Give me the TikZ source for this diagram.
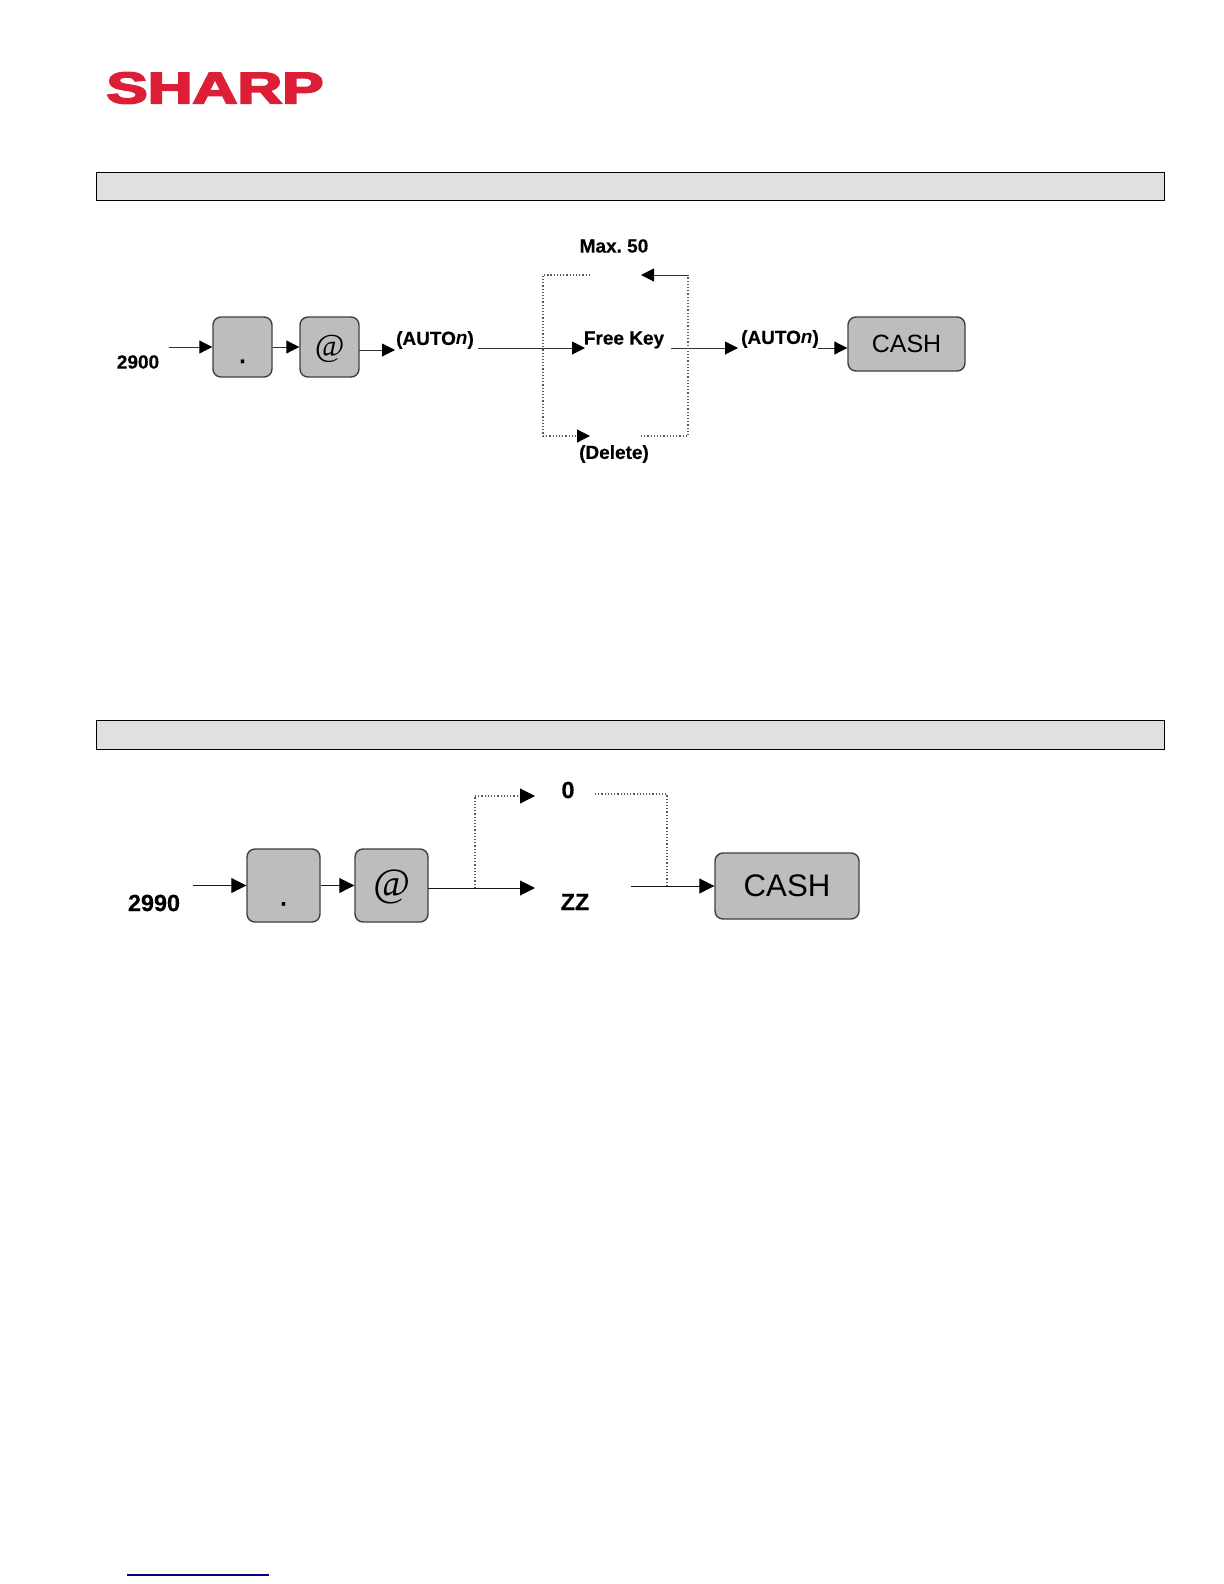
\documentclass[tikz,border=0pt]{standalone}
\usepackage{fontspec}
\usepackage{xcolor}
\usetikzlibrary{arrows.meta, shapes.geometric}
\setmainfont[BoldFeatures={FakeBold=0.4}]{Liberation Sans}
\newfontfamily\keyfont{Liberation Serif}
\newfontfamily\logofont[BoldFeatures={FakeBold=4}]{Liberation Sans}
\definecolor{sharpred}{HTML}{DC1F36}
\definecolor{barfill}{HTML}{E0E0E0}
\definecolor{keyfill}{HTML}{BDBDBD}

\begin{document}
\begin{tikzpicture}[
  x=0.5bp, y=-0.5bp,
  bar/.style={draw=black, line width=0.4bp, fill=barfill},
  smalllbl/.style={font=\fontsize{9.5bp}{11bp}\selectfont\bfseries, inner sep=0pt},
  biglbl/.style={font=\fontsize{11.7bp}{13bp}\selectfont\bfseries, inner sep=0pt},
  keybox/.style={draw=black!75, line width=0.7bp, rounded corners=4bp, fill=keyfill, inner sep=0pt},
  smallkey/.style={keybox, minimum width=29.5bp, minimum height=30bp},
  bigkey/.style={keybox, minimum width=36.5bp, minimum height=36.5bp},
  arrow/.style={-{Triangle[length=6.5bp, width=6.5bp, color=black]}, line width=0.5bp, black!80},
  bigarrow/.style={-{Triangle[length=7.5bp, width=7.5bp, color=black]}, line width=0.5bp, black!90},
  dotline/.style={line width=0.6bp, black!65, densely dotted},
  dotarrow/.style={dotline, -{Triangle[length=6.5bp, width=6.5bp, color=black]}},
  bigdotarrow/.style={dotline, -{Triangle[length=7.5bp, width=7.5bp, color=black]}}
]
\useasboundingbox (0,0) rectangle (1224,1584);

% logo and header bars
\node[font=\logofont\fontsize{22bp}{24bp}\selectfont\bfseries, text=sharpred, inner sep=0pt, xscale=1.41, transform shape] (logo) at (215,88) {SHARP};
\node[bar, minimum width=534bp, minimum height=14bp, inner sep=0pt] (bartop) at (630,186) {};
\node[bar, minimum width=534bp, minimum height=14.5bp, inner sep=0pt] (barlow) at (630,735) {};

% first sequence
\node[smalllbl] (num1) at (138,362) {2900};
\node[smallkey] (dot1) at (242.5,347) {\raisebox{-8bp}[0pt][0pt]{\fontsize{11bp}{11bp}\selectfont\bfseries .}};
\node[smallkey] (at1) at (329.5,347) {\raisebox{-4.5bp}[0pt][0pt]{\keyfont\itshape\fontsize{16bp}{16bp}\selectfont @}};
\node[smalllbl] (auto1) at (435,340) {(AUTO\textit{n})};
\node[smalllbl] (free) at (624,340) {Free Key};
\node[smalllbl] (max) at (614,246) {Max.\ 50};
\node[smalllbl] (del) at (614,454) {(Delete)};
\node[smalllbl] (auto2) at (780,339) {(AUTO\textit{n})};
\node[keybox, minimum width=58.5bp, minimum height=27bp, font=\fontsize{12.5bp}{14bp}\selectfont] (cash1) at (906.5,344) {CASH};

\coordinate (in1) at (169,347);
\coordinate (out1) at (359,350);
\coordinate (tip1) at (395,350);
\coordinate (line1) at (478,348);
\coordinate (tip2) at (585,348);
\coordinate (line2) at (671,348);
\coordinate (tip3) at (738,348);
\coordinate (line3) at (818,348);
\coordinate (tl) at (543,275);
\coordinate (tr) at (688,275);
\coordinate (bl) at (543,436);
\coordinate (br) at (688,436);
\coordinate (topa) at (590,275);
\coordinate (topb) at (641,275);
\coordinate (bota) at (590,436);
\coordinate (botb) at (641,436);

\draw[arrow] (in1) -- (dot1);
\draw[arrow] (dot1) -- (at1);
\draw[arrow] (out1) -- (tip1);
\draw[arrow] (line1) -- (tip2);
\draw[arrow] (line2) -- (tip3);
\draw[arrow] (line3) -- (line3 -| cash1.west);
\draw[dotline] (topa) -- (tl) -- (bl);
\draw[dotarrow] (bl) -- (bota);
\draw[dotline] (botb) -- (br) -- (tr);
\draw[arrow] (tr) -- (topb);

% second sequence
\node[biglbl] (num2) at (154,903) {2990};
\node[bigkey] (dot2) at (283.5,885.5) {\raisebox{-10bp}[0pt][0pt]{\fontsize{11bp}{11bp}\selectfont\bfseries .}};
\node[bigkey] (at2) at (391.5,885.5) {\raisebox{-5.5bp}[0pt][0pt]{\keyfont\itshape\fontsize{20bp}{20bp}\selectfont @}};
\node[biglbl] (zero) at (568,790) {0};
\node[biglbl] (zz) at (575,902) {ZZ};
\node[keybox, minimum width=72bp, minimum height=33bp, font=\fontsize{15.6bp}{17bp}\selectfont] (cash2) at (787,886) {CASH};

\coordinate (in2) at (193,885.5);
\coordinate (out2) at (428,888);
\coordinate (tip4) at (535,888);
\coordinate (up) at (475,888);
\coordinate (upl) at (475,796);
\coordinate (tip5) at (535,796);
\coordinate (zeroa) at (595,794);
\coordinate (zerob) at (667,794);
\coordinate (down) at (667,886);
\coordinate (line4) at (631,886);

\draw[bigarrow] (in2) -- (dot2);
\draw[bigarrow] (dot2) -- (at2);
\draw[bigarrow] (out2) -- (tip4);
\draw[bigarrow] (line4) -- (cash2);
\draw[dotline] (up) -- (upl);
\draw[bigdotarrow] (upl) -- (tip5);
\draw[dotline] (zeroa) -- (zerob) -- (down);

% link rule at the foot
\coordinate (rulea) at (127,1575);
\coordinate (ruleb) at (269,1575);
\draw[line width=0.6bp, blue!50!black] (rulea) -- (ruleb);
\end{tikzpicture}
\end{document}
